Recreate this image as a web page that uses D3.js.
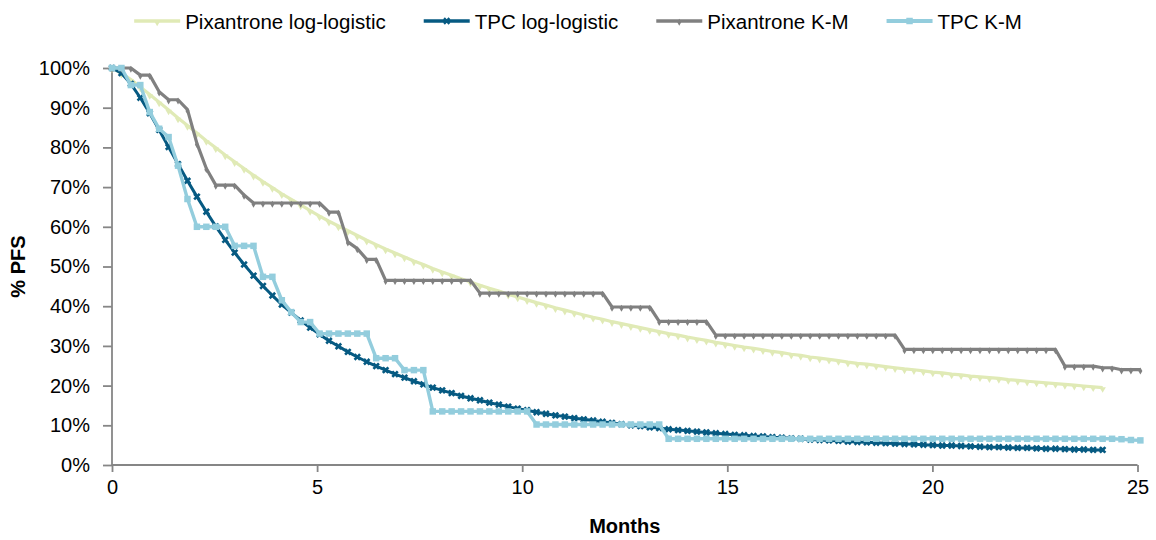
<!DOCTYPE html>
<html>
<head>
<meta charset="utf-8">
<script src="https://cdn.jsdelivr.net/npm/d3@7"></script>
<style>
body { margin: 0; background: #fff; }
text { font-family: "Liberation Sans", Arial, sans-serif; fill: #000; }
</style>
</head>
<body>
<div id="chart"></div>
<script>
// weekly time points, in months
var months = [0, 0.23, 0.46, 0.69, 0.92, 1.15, 1.38, 1.61, 1.84, 2.07, 2.30, 2.53, 2.76, 2.99, 3.22, 3.45, 3.68, 3.91, 4.14, 4.37,
    4.60, 4.83, 5.06, 5.29, 5.52, 5.75, 5.98, 6.21, 6.44, 6.67, 6.90, 7.13, 7.36, 7.59, 7.82, 8.05, 8.28, 8.51, 8.74, 8.97,
    9.20, 9.43, 9.66, 9.89, 10.12, 10.35, 10.58, 10.81, 11.04, 11.27, 11.50, 11.73, 11.96, 12.19, 12.42, 12.65, 12.88, 13.11, 13.34, 13.57,
    13.80, 14.03, 14.26, 14.49, 14.72, 14.95, 15.18, 15.41, 15.64, 15.87, 16.10, 16.33, 16.56, 16.79, 17.02, 17.25, 17.48, 17.71, 17.94, 18.17,
    18.40, 18.63, 18.86, 19.09, 19.32, 19.55, 19.78, 20.01, 20.24, 20.47, 20.70, 20.93, 21.16, 21.39, 21.62, 21.85, 22.08, 22.31, 22.54, 22.77,
    23.00, 23.23, 23.46, 23.69, 23.92, 24.15, 24.38, 24.61, 24.84, 25.07];

var pixLogLogistic = [100, 98.7, 97.1, 95.2, 93.3, 91.4, 89.4, 87.4, 85.5, 83.6, 81.7, 79.9, 78.1, 76.4, 74.7, 73.0, 71.4, 69.9, 68.3, 66.9,
    65.5, 64.1, 62.7, 61.4, 60.2, 59.0, 57.8, 56.6, 55.5, 54.4, 53.4, 52.4, 51.4, 50.5, 49.5, 48.6, 47.8, 46.9, 46.1, 45.3,
    44.5, 43.8, 43.0, 42.3, 41.6, 40.9, 40.3, 39.6, 39.0, 38.4, 37.8, 37.2, 36.7, 36.1, 35.6, 35.1, 34.6, 34.1, 33.6, 33.1,
    32.7, 32.2, 31.8, 31.4, 30.9, 30.5, 30.1, 29.7, 29.4, 29.0, 28.6, 28.3, 27.9, 27.6, 27.2, 26.9, 26.6, 26.3, 25.9, 25.6,
    25.4, 25.1, 24.8, 24.5, 24.2, 24.0, 23.7, 23.4, 23.2, 22.9, 22.7, 22.4, 22.2, 22.0, 21.8, 21.5, 21.3, 21.1, 20.9, 20.7,
    20.5, 20.3, 20.1, 19.9, 19.7, 19.5];

var tpcLogLogistic = [100, 98.7, 96.0, 92.5, 88.6, 84.4, 80.1, 75.8, 71.6, 67.6, 63.8, 60.1, 56.7, 53.5, 50.5, 47.7, 45.1, 42.7, 40.4, 38.4,
    36.4, 34.6, 32.9, 31.3, 29.9, 28.5, 27.2, 26.0, 24.9, 23.9, 22.9, 22.0, 21.1, 20.3, 19.5, 18.8, 18.1, 17.4, 16.8, 16.3,
    15.7, 15.2, 14.7, 14.2, 13.8, 13.3, 12.9, 12.5, 12.2, 11.8, 11.5, 11.2, 10.9, 10.6, 10.3, 10.0, 9.8, 9.5, 9.3, 9.0,
    8.8, 8.6, 8.4, 8.2, 8.0, 7.8, 7.6, 7.5, 7.3, 7.2, 7.0, 6.9, 6.7, 6.6, 6.4, 6.3, 6.2, 6.1, 5.9, 5.8,
    5.7, 5.6, 5.5, 5.4, 5.3, 5.2, 5.1, 5.0, 4.9, 4.9, 4.8, 4.7, 4.6, 4.5, 4.5, 4.4, 4.3, 4.3, 4.2, 4.1,
    4.1, 4.0, 3.9, 3.9, 3.8, 3.8];

var pixKM = [100, 100, 100, 98.2, 98.2, 94.0, 92.0, 92.0, 89.5, 81.0, 74.7, 70.5, 70.5, 70.5, 68.0, 66.0, 66.0, 66.0, 66.0, 66.0,
    66.0, 66.0, 66.0, 63.7, 63.7, 56.2, 54.5, 51.8, 51.8, 46.5, 46.5, 46.5, 46.5, 46.5, 46.5, 46.5, 46.5, 46.5, 46.5, 43.3,
    43.3, 43.3, 43.3, 43.3, 43.3, 43.3, 43.3, 43.3, 43.3, 43.3, 43.3, 43.3, 43.3, 39.8, 39.8, 39.8, 39.8, 39.8, 36.2, 36.2,
    36.2, 36.2, 36.2, 36.2, 32.7, 32.7, 32.7, 32.7, 32.7, 32.7, 32.7, 32.7, 32.7, 32.7, 32.7, 32.7, 32.7, 32.7, 32.7, 32.7,
    32.7, 32.7, 32.7, 32.7, 29.1, 29.1, 29.1, 29.1, 29.1, 29.1, 29.1, 29.1, 29.1, 29.1, 29.1, 29.1, 29.1, 29.1, 29.1, 29.1,
    29.1, 24.9, 24.9, 24.9, 24.9, 24.5, 24.5, 24.0, 24.0, 24.0];

var tpcKM = [100, 100, 95.7, 95.7, 88.9, 84.7, 82.6, 75.4, 67.0, 60.0, 60.0, 60.0, 60.0, 55.2, 55.2, 55.2, 47.4, 47.4, 41.5, 38.5,
    36.0, 36.0, 33.1, 33.1, 33.1, 33.1, 33.1, 33.1, 26.9, 26.9, 26.9, 23.9, 23.9, 23.9, 13.5, 13.5, 13.5, 13.5, 13.5, 13.5,
    13.5, 13.5, 13.5, 13.5, 13.5, 10.2, 10.2, 10.2, 10.2, 10.2, 10.2, 10.2, 10.2, 10.2, 10.2, 10.2, 10.2, 10.2, 10.2, 6.6,
    6.6, 6.6, 6.6, 6.6, 6.6, 6.6, 6.6, 6.6, 6.6, 6.6, 6.6, 6.6, 6.6, 6.6, 6.6, 6.6, 6.6, 6.6, 6.6, 6.6,
    6.6, 6.6, 6.6, 6.6, 6.6, 6.6, 6.6, 6.6, 6.6, 6.6, 6.6, 6.6, 6.6, 6.6, 6.6, 6.6, 6.6, 6.6, 6.6, 6.6,
    6.6, 6.6, 6.6, 6.6, 6.6, 6.6, 6.6, 6.5, 6.3, 6.2];

var seriesNames = ["Pixantrone log-logistic", "TPC log-logistic", "Pixantrone K-M", "TPC K-M"];
var xTicks = [0, 5, 10, 15, 20, 25];
var yTicks = [0, 10, 20, 30, 40, 50, 60, 70, 80, 90, 100];

var W = 1156, H = 540;
var margin = {top: 68, right: 18.5, bottom: 75, left: 112};
var width = W - margin.left - margin.right;
var height = H - margin.top - margin.bottom;
var axisColor = "#868686";

var x = d3.scaleLinear().domain([0, 25]).range([0, width]);
var y = d3.scaleLinear().domain([0, 100]).range([height, 0]);

var series = [
    {name: seriesNames[0], values: pixLogLogistic, color: "#e0eab6", width: 3.2, symbol: d3.symbolTriangle, size: 18, rot: 180, dy: 1.5},
    {name: seriesNames[1], values: tpcLogLogistic, color: "#065a82", width: 3, symbol: d3.symbolCross, size: 34, rot: 45, dy: 0},
    {name: seriesNames[2], values: pixKM, color: "#808080", width: 3.2, symbol: d3.symbolDiamond, size: 14, rot: 0, dy: 1.2},
    {name: seriesNames[3], values: tpcKM, color: "#93cddd", width: 3.4, symbol: d3.symbolSquare, size: 42, rot: 0, dy: 0}
];

var svg = d3.select("#chart").append("svg")
    .attr("width", W)
    .attr("height", H);

var g = svg.append("g")
    .attr("transform", "translate(" + margin.left + "," + margin.top + ")");

// axes
var yAxis = g.append("g")
    .call(d3.axisLeft(y).tickValues(yTicks).tickSize(9).tickPadding(13).tickFormat(function(d) { return d + "%"; }));
var xAxis = g.append("g")
    .attr("transform", "translate(0," + height + ")")
    .call(d3.axisBottom(x).tickValues(xTicks).tickSize(7).tickPadding(8).tickFormat(d3.format("d")));

[xAxis, yAxis].forEach(function(a) {
    a.select(".domain").attr("stroke", axisColor).attr("stroke-width", 1.8);
    a.selectAll(".tick line").attr("stroke", axisColor).attr("stroke-width", 1.8);
    a.selectAll(".tick text").attr("font-size", 20).attr("fill", "#000")
        .style("font-family", '"Liberation Sans", Arial, sans-serif');
});
yAxis.select(".domain").attr("d", "M0," + height + "V0");
xAxis.select(".domain").attr("d", "M0,0H" + width);

// series
var line = d3.line()
    .x(function(d) { return x(d[0]); })
    .y(function(d) { return y(d[1]); });

series.forEach(function(s) {
    var pts = s.values.map(function(v, i) { return [months[i], v]; });
    var sg = g.append("g").attr("class", "series");
    sg.append("path")
        .datum(pts)
        .attr("fill", "none")
        .attr("stroke", s.color)
        .attr("stroke-width", s.width)
        .attr("stroke-linejoin", "round")
        .attr("d", line);
    var sym = d3.symbol().type(s.symbol).size(s.size);
    sg.selectAll("path.mk")
        .data(pts)
        .enter().append("path")
        .attr("class", "mk")
        .attr("fill", s.color)
        .attr("transform", function(d) {
            return "translate(" + x(d[0]) + "," + (y(d[1]) + s.dy) + ")rotate(" + s.rot + ")";
        })
        .attr("d", sym);
});

// axis titles
svg.append("text")
    .attr("x", margin.left + width / 2)
    .attr("y", 533)
    .attr("text-anchor", "middle")
    .attr("font-size", 20)
    .attr("font-weight", "bold")
    .text("Months");

svg.append("text")
    .attr("transform", "translate(25," + (margin.top + height / 2) + ")rotate(-90)")
    .attr("text-anchor", "middle")
    .attr("font-size", 20)
    .attr("font-weight", "bold")
    .text("% PFS");

// legend
var legend = svg.append("g");
var gap = 38;
var lx = 0;
series.forEach(function(s, i) {
    var item = legend.append("g").attr("transform", "translate(" + lx + ",0)");
    item.append("line")
        .attr("x1", 0).attr("x2", 46)
        .attr("y1", 21).attr("y2", 21)
        .attr("stroke", s.color)
        .attr("stroke-width", s.width + 0.5);
    item.append("path")
        .attr("fill", s.color)
        .attr("transform", "translate(23," + (21 + s.dy) + ")rotate(" + s.rot + ")")
        .attr("d", d3.symbol().type(s.symbol).size(s.size));
    var t = item.append("text")
        .attr("x", 51)
        .attr("y", 29)
        .attr("font-size", 20.5)
        .text(s.name);
    lx += 51 + t.node().getComputedTextLength() + gap;
});
var legendWidth = lx - gap;
legend.attr("transform", "translate(" + (W / 2 - legendWidth / 2) + ",0)");
</script>
</body>
</html>
